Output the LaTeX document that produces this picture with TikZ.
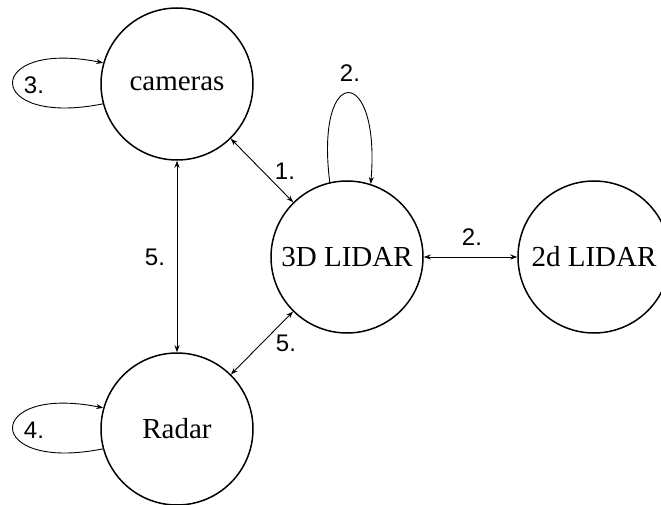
\documentclass[tikz,border=0pt]{standalone}
\usepackage{fontspec}
\setmainfont{Liberation Serif}
\setsansfont{Liberation Sans}
\usetikzlibrary{arrows.meta}
\begin{document}
\begin{tikzpicture}[x=1pt,y=-1pt,
  state/.style={circle,draw,line width=1.5pt,minimum size=152pt,inner sep=0pt,font=\fontsize{29}{33}\selectfont},
  conn/.style={line width=0.9pt,{Stealth[length=7pt,width=5pt]}-{Stealth[length=7pt,width=5pt]}},
  loopc/.style={line width=0.9pt,-{Stealth[length=7pt,width=5pt]}},
  lab/.style={font=\sffamily\fontsize{24}{28}\selectfont,inner sep=0pt}]
\useasboundingbox (0,0) rectangle (661,505);
\node[state] (cam) at (177,84) {cameras};
\node[state] (lidar3) at (347,257) {3D LIDAR};
\node[state] (lidar2) at (594,257) {2d LIDAR};
\node[state] (radar) at (177,429) {Radar};

\draw[conn] (cam) -- (lidar3);
\draw[conn] (lidar3) -- (lidar2);
\draw[conn] (cam) -- (radar);
\draw[conn] (lidar3) -- (radar);

\draw[loopc] (cam.195) .. controls +(-120,24) and +(-120,-24) .. (cam.164);
\draw[loopc] (radar.195) .. controls +(-120,24) and +(-120,-24) .. (radar.164);
\draw[loopc] (lidar3.103) .. controls +(-15,-120) and +(10,-120) .. (lidar3.72);

\node[lab] (l3) at (34,85) {3.};
\node[lab] (l4) at (34,430) {4.};
\node[lab] (l2a) at (350,73) {2.};
\node[lab] (l1) at (285,171) {1.};
\node[lab] (l2b) at (472,237) {2.};
\node[lab] (l5a) at (155,257) {5.};
\node[lab] (l5b) at (286,343) {5.};
\end{tikzpicture}
\end{document}
